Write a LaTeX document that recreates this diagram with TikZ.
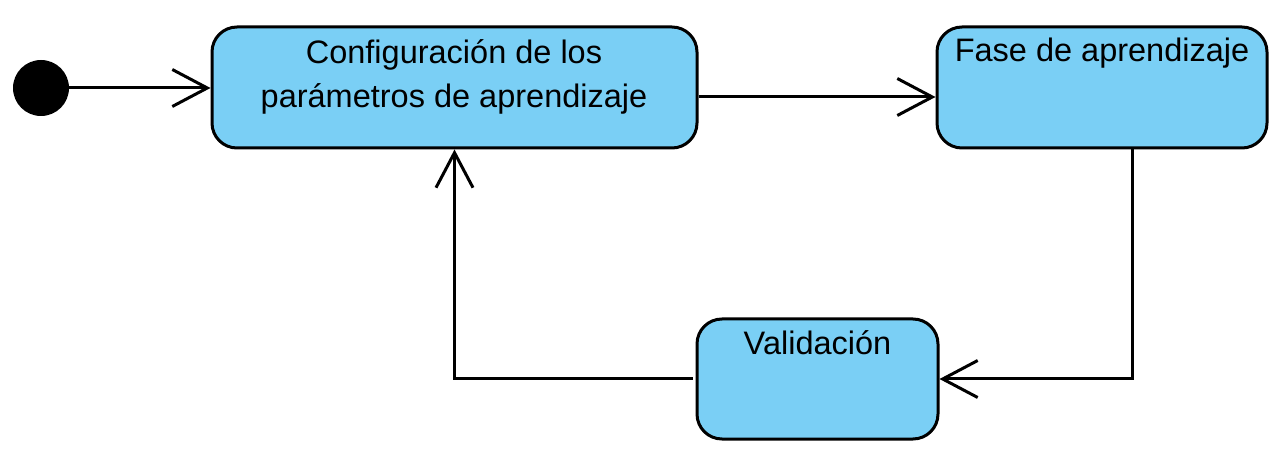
\documentclass[tikz,border=0pt]{standalone}
\usepackage{fontspec}
\setmainfont{Liberation Sans}
\usetikzlibrary{arrows.meta}
\definecolor{stfill}{RGB}{122,207,245}
\tikzset{
  statebox/.style={draw=black, line width=3pt, fill=stfill, rounded corners=25pt, inner sep=0pt},
  lbl/.style={anchor=base, inner sep=0pt, font=\fontsize{32.5}{40}\selectfont},
  arr/.style={line width=3pt, -{Straight Barb[length=35pt, width=37pt]}},
}
\begin{document}
\begin{tikzpicture}[x=1pt,y=-1pt]
\useasboundingbox (0,0) rectangle (1278,462);
\node[circle, fill=black, inner sep=0pt, minimum size=56pt] (init) at (41,88) {};
\node[statebox, minimum width=485pt, minimum height=121pt] (b1) at (454.5,87.5) {};
\node[statebox, minimum width=330pt, minimum height=121pt] (b2) at (1102,87.5) {};
\node[statebox, minimum width=241pt, minimum height=120pt] (b3) at (817.5,379) {};
\node[lbl] (t1a) at (454,64) {Configuración de los};
\node[lbl] (t1b) at (454,108) {parámetros de aprendizaje};
\node[lbl] (t2) at (1102,62) {Fase de aprendizaje};
\node[lbl] (t3) at (817.5,355) {Validación};
\coordinate (r2) at (0,97);
\coordinate (c3) at (1132,379);
\draw[arr] (init.east) -- (init.east -| b1.west);
\draw[arr] (b1.east |- r2) -- (b2.west |- r2);
\draw[arr] (b2.south -| c3) -- (c3) -- (b3.east);
\draw[arr] ([xshift=-3pt]b3.west) -| (b1.south);
\end{tikzpicture}
\end{document}
